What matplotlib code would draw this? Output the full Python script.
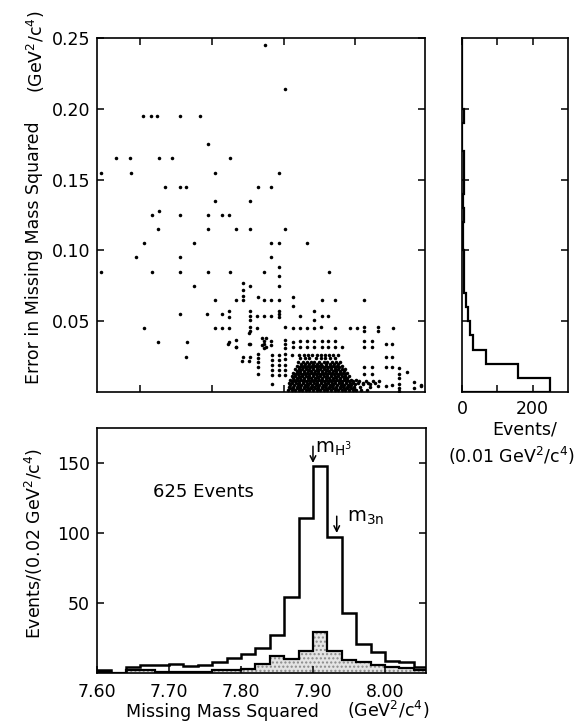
import matplotlib
matplotlib.use("Agg")
import matplotlib.pyplot as plt
import numpy as np

plt.rcParams['font.family'] = ['DejaVu Sans']
plt.rcParams['mathtext.fontset'] = 'dejavusans'

# ---------------- data ----------------
# sparse scatter points: missing mass squared (GeV^2/c^4) and its error
sparse_mass = [
    7.834, 7.862,
    7.664, 7.675, 7.684, 7.715, 7.743,
    7.755,
    7.626, 7.646, 7.686, 7.705, 7.785,
    7.606, 7.647, 7.765, 7.853,
    7.695, 7.715, 7.724, 7.825, 7.843,
    7.765, 7.813,
    7.676, 7.686, 7.715, 7.755, 7.774, 7.784,
    7.685, 7.755, 7.793, 7.813, 7.862,
    7.666, 7.735, 7.843, 7.853, 7.892,
    7.655, 7.715, 7.843,
    7.606, 7.676, 7.715, 7.755, 7.785, 7.833, 7.853, 7.853, 7.923,
    7.735, 7.804, 7.804, 7.804, 7.813, 7.853,
    7.764, 7.793, 7.804, 7.824, 7.833, 7.843, 7.853, 7.873, 7.873, 7.913, 7.932, 7.972,
    7.715, 7.753, 7.774, 7.784, 7.784, 7.813, 7.813, 7.813, 7.823, 7.833, 7.843,
    7.853, 7.853, 7.853, 7.883, 7.903, 7.903, 7.913, 7.922,
    7.666, 7.764, 7.774, 7.784, 7.813, 7.813, 7.823, 7.862, 7.873, 7.883, 7.893,
    7.903, 7.912, 7.932, 7.952, 7.962, 7.972, 7.972, 7.992, 7.992, 8.012,
    7.685, 7.725, 7.724, 7.783, 7.793, 7.793, 7.812, 7.812, 7.802, 7.812,
    7.830, 7.835, 7.830, 7.835,
    7.784, 7.793, 7.813, 7.833, 7.833, 7.833, 7.843, 7.843,
    7.862, 7.862, 7.862, 7.873, 7.873, 7.883, 7.883, 7.892, 7.892, 7.903, 7.903,
    7.913, 7.913, 7.922, 7.922, 7.932, 7.932, 7.942, 7.972, 7.972, 7.983, 7.983,
    8.002, 8.011,
    7.803, 7.813,
    7.824, 7.824, 7.824, 7.824, 7.824,
    7.844, 7.844, 7.844, 7.844, 7.844, 7.844,
    7.853, 7.853, 7.853, 7.853, 7.853,
    7.862, 7.862, 7.862, 7.862, 7.862,
    7.956, 7.965, 7.975, 7.984, 7.993, 7.960, 7.970, 7.980,
    7.972, 7.972, 7.983, 7.983,
    8.002, 8.011, 8.002, 8.011,
    8.021, 8.021, 8.021, 8.021, 8.021, 8.021,
    8.032, 8.042, 8.042, 8.051, 8.011, 7.992, 8.002, 8.052,
]
sparse_err = [
    0.245, 0.214,
    0.195, 0.195, 0.195, 0.195, 0.195,
    0.175,
    0.165, 0.165, 0.165, 0.165, 0.165,
    0.155, 0.155, 0.155, 0.155,
    0.145, 0.145, 0.145, 0.145, 0.145,
    0.135, 0.135,
    0.125, 0.128, 0.125, 0.125, 0.125, 0.125,
    0.115, 0.115, 0.115, 0.115, 0.115,
    0.105, 0.105, 0.105, 0.105, 0.105,
    0.095, 0.095, 0.095,
    0.085, 0.085, 0.085, 0.085, 0.085, 0.085, 0.088, 0.082, 0.085,
    0.075, 0.077, 0.072, 0.068, 0.075, 0.075,
    0.065, 0.065, 0.065, 0.067, 0.065, 0.065, 0.065, 0.067, 0.061, 0.065, 0.065, 0.065,
    0.055, 0.055, 0.055, 0.057, 0.053, 0.057, 0.054, 0.051, 0.054, 0.054, 0.054,
    0.057, 0.055, 0.053, 0.054, 0.057, 0.051, 0.054, 0.054,
    0.045, 0.045, 0.045, 0.045, 0.046, 0.043, 0.045, 0.046, 0.045, 0.045, 0.045,
    0.045, 0.046, 0.045, 0.045, 0.045, 0.046, 0.043, 0.046, 0.043, 0.045,
    0.035, 0.035, 0.025, 0.034, 0.037, 0.032, 0.042, 0.034, 0.022, 0.022,
    0.038, 0.038, 0.033, 0.032,
    0.035, 0.032, 0.034, 0.036, 0.034, 0.031, 0.036, 0.033,
    0.037, 0.034, 0.031, 0.035, 0.032, 0.036, 0.032, 0.036, 0.032, 0.036, 0.032,
    0.036, 0.032, 0.036, 0.032, 0.036, 0.032, 0.032, 0.036, 0.032, 0.036, 0.032,
    0.034, 0.034,
    0.025, 0.025,
    0.027, 0.024, 0.021, 0.018, 0.013,
    0.026, 0.0225, 0.019, 0.0155, 0.012, 0.006,
    0.026, 0.0225, 0.019, 0.0155, 0.012,
    0.027, 0.0235, 0.019, 0.0155, 0.012,
    0.0075, 0.0075, 0.0075, 0.0075, 0.0075, 0.0055, 0.0055, 0.0055,
    0.018, 0.013, 0.018, 0.013,
    0.025, 0.025, 0.018, 0.018,
    0.0167, 0.013, 0.0096, 0.006, 0.0026, 0.0008,
    0.0143, 0.007, 0.0026, 0.005, 0.005, 0.004, 0.004, 0.0042,
]

# dense core of the scatter, row by row (error level -> masses)
core_err = [0.0012, 0.0025, 0.0037, 0.0050, 0.0062, 0.0075, 0.0087, 0.0100,
            0.0112, 0.0125, 0.0137, 0.0150, 0.0162, 0.0175, 0.0187, 0.0200,
            0.0212, 0.0237, 0.0262]
core_mass = [
    [7.866, 7.871, 7.876, 7.881, 7.886, 7.891, 7.896, 7.901, 7.906, 7.911, 7.916,
     7.921, 7.926, 7.931, 7.936, 7.941, 7.946, 7.951, 7.956, 7.961, 7.968, 7.976],
    [7.8685, 7.8735, 7.8785, 7.8835, 7.8885, 7.8935, 7.8985, 7.9035, 7.9085, 7.9135,
     7.9185, 7.9235, 7.9285, 7.9335, 7.9385, 7.9435, 7.9485, 7.9535, 7.9585],
    [7.868, 7.873, 7.878, 7.883, 7.888, 7.893, 7.898, 7.903, 7.908, 7.913, 7.918,
     7.923, 7.928, 7.933, 7.938, 7.943, 7.948, 7.953, 7.958, 7.966, 7.981],
    [7.8695, 7.8745, 7.8795, 7.8845, 7.8895, 7.8945, 7.8995, 7.9045, 7.9095, 7.9145,
     7.9195, 7.9245, 7.9295, 7.9345, 7.9395, 7.9445, 7.9495, 7.9545],
    [7.867, 7.872, 7.877, 7.882, 7.887, 7.892, 7.897, 7.902, 7.907, 7.912, 7.917,
     7.922, 7.927, 7.932, 7.937, 7.942, 7.947, 7.952, 7.957, 7.963, 7.971, 7.978, 7.987],
    [7.8715, 7.8765, 7.8815, 7.8865, 7.8915, 7.8965, 7.9015, 7.9065, 7.9115, 7.9165,
     7.9215, 7.9265, 7.9315, 7.9365, 7.9415, 7.9465, 7.9515],
    [7.869, 7.874, 7.879, 7.884, 7.889, 7.894, 7.899, 7.904, 7.909, 7.914, 7.919,
     7.924, 7.929, 7.934, 7.939, 7.944, 7.949, 7.954, 7.961],
    [7.8735, 7.8785, 7.8835, 7.8885, 7.8935, 7.8985, 7.9035, 7.9085, 7.9135, 7.9185,
     7.9235, 7.9285, 7.9335, 7.9385, 7.9435, 7.9485],
    [7.871, 7.876, 7.881, 7.886, 7.891, 7.896, 7.901, 7.906, 7.911, 7.916, 7.921,
     7.926, 7.931, 7.936, 7.941, 7.946, 7.951],
    [7.8755, 7.8805, 7.8855, 7.8905, 7.8955, 7.9005, 7.9055, 7.9105, 7.9155, 7.9205,
     7.9255, 7.9305, 7.9355, 7.9405, 7.9455],
    [7.873, 7.878, 7.883, 7.888, 7.893, 7.898, 7.903, 7.908, 7.913, 7.918, 7.923,
     7.928, 7.933, 7.938, 7.943, 7.948],
    [7.8785, 7.8835, 7.8885, 7.8935, 7.8985, 7.9035, 7.9085, 7.9135, 7.9185, 7.9235,
     7.9285, 7.9335, 7.9385, 7.9435],
    [7.876, 7.881, 7.886, 7.891, 7.896, 7.901, 7.906, 7.911, 7.916, 7.921, 7.926,
     7.931, 7.936, 7.941, 7.946],
    [7.8815, 7.8865, 7.8915, 7.8965, 7.9015, 7.9065, 7.9115, 7.9165, 7.9215, 7.9265,
     7.9315, 7.9365],
    [7.878, 7.884, 7.889, 7.894, 7.899, 7.904, 7.909, 7.914, 7.919, 7.924, 7.929,
     7.934, 7.941],
    [7.8845, 7.8905, 7.8955, 7.9005, 7.9065, 7.9125, 7.9185, 7.9245, 7.9305, 7.9355],
    [7.880, 7.887, 7.893, 7.898, 7.903, 7.910, 7.916, 7.921, 7.927, 7.933, 7.938],
    [7.883, 7.890, 7.896, 7.905, 7.912, 7.918, 7.925, 7.931],
    [7.872, 7.882, 7.889, 7.894, 7.900, 7.906, 7.912, 7.917, 7.923, 7.929, 7.936],
]

# projection on the error axis (events per 0.01 GeV^2/c^4)
err_edges = [0.00, 0.01, 0.02, 0.03, 0.04, 0.05, 0.06, 0.07, 0.08, 0.09, 0.10,
             0.11, 0.12, 0.13, 0.14, 0.15, 0.16, 0.17, 0.18, 0.19, 0.20,
             0.21, 0.22, 0.23, 0.24, 0.25]
err_counts = [248, 158, 68, 32, 24, 18, 11, 6, 6, 5, 4, 3, 5, 3, 6, 5, 6, 1, 1,
              6, 0, 1, 0, 0, 1]

# missing mass squared histogram (events per 0.02 GeV^2/c^4)
mm_edges = [7.60, 7.62, 7.64, 7.66, 7.68, 7.70, 7.72, 7.74, 7.76, 7.78, 7.80,
            7.82, 7.84, 7.86, 7.88, 7.90, 7.92, 7.94, 7.96, 7.98, 8.00,
            8.02, 8.04, 8.06]
mm_all = [2, 0, 4, 5.5, 5.5, 6.5, 5, 6, 8, 10.5, 13.5, 18, 27.5, 54, 111, 148,
          97, 43, 21, 15, 8.5, 8, 4]
mm_sub = [1, 0, 2, 2, 1, 1, 1, 1, 2.5, 2.5, 3, 6.5, 12, 10, 15.5, 29.5, 16, 9.5,
          8, 5.5, 4.5, 3.5, 2.5]

mass_ticks = [7.60, 7.70, 7.80, 7.90, 8.00]
mass_ticklabels = ["7.60", "7.70", "7.80", "7.90", "8.00"]
scatter_xticks = [7.66, 7.76, 7.86, 7.96]
err_ticks = [0.05, 0.10, 0.15, 0.20, 0.25]
err_ticklabels = ["0.05", "0.10", "0.15", "0.20", "0.25"]
count_ticks = [50, 100, 150]
proj_ticks = [0, 100, 200]
proj_ticklabels = ["0", "", "200"]

m_h3 = 7.90
m_3n = 7.933

# ---------------- figure ----------------
W, H = 578, 726
fig = plt.figure(figsize=(W / 100, H / 100), dpi=100)

def rect(x0, y0, x1, y1):
    return [x0 / W, 1 - y1 / H, (x1 - x0) / W, (y1 - y0) / H]

ax_sc = fig.add_axes(rect(97, 38, 425, 392))
ax_pr = fig.add_axes(rect(462, 38, 568, 392))
ax_h = fig.add_axes(rect(97, 428, 426, 673))

FS = 12.5
for a in (ax_sc, ax_pr, ax_h):
    for s in a.spines.values():
        s.set_linewidth(1.2)
    a.tick_params(direction='in', length=5, width=1.1, labelsize=FS, pad=5)

# scatter
xs = list(sparse_mass)
ys = list(sparse_err)
for e, row in zip(core_err, core_mass):
    xs.extend(row)
    ys.extend([e] * len(row))
ax_sc.scatter(xs, ys, s=6.5, c='black', marker='o', linewidths=0)
ax_sc.set_xlim(7.60, 8.057)
ax_sc.set_ylim(0, 0.25)
ax_sc.set_xticks(scatter_xticks)
ax_sc.set_yticks(err_ticks)
ax_sc.set_yticklabels(err_ticklabels)
ax_sc.tick_params(top=True, right=True, labelbottom=False)

# projection
ax_pr.stairs(err_counts, err_edges, orientation='horizontal', color='black',
             linewidth=1.6, baseline=0)
ax_pr.set_xlim(0, 300)
ax_pr.set_ylim(0, 0.25)
ax_pr.set_xticks(proj_ticks)
ax_pr.set_xticklabels(proj_ticklabels)
ax_pr.set_yticks(err_ticks[:-1])
ax_pr.tick_params(top=True, right=True, labelleft=False, pad=6)

# mass histogram
ax_h.stairs(mm_sub, mm_edges, fill=True, facecolor='#e4e4e4', edgecolor='#8a8a8a',
            hatch='....', linewidth=0)
ax_h.stairs(mm_sub, mm_edges, color='black', linewidth=1.6, baseline=0)
ax_h.stairs(mm_all, mm_edges, color='black', linewidth=1.8, baseline=0)
ax_h.set_xlim(7.60, 8.057)
ax_h.set_ylim(0, 175)
ax_h.set_xticks(mass_ticks)
ax_h.set_xticklabels(mass_ticklabels)
ax_h.set_yticks(count_ticks)
ax_h.tick_params(right=True, top=False)
ax_h.tick_params(axis='x', pad=7)

ax_h.text(7.678, 129, "625 Events", fontsize=13, ha='left', va='center')
ax_h.annotate('', xy=(m_h3, 150), xytext=(m_h3, 162),
              arrowprops=dict(arrowstyle='->', lw=1.1, color='black',
                              shrinkA=0, shrinkB=0))
ax_h.text(m_h3 + 0.003, 157, r"m$_{\mathrm{H}^3}$", fontsize=14, ha='left',
          va='baseline')
ax_h.annotate('', xy=(m_3n, 100), xytext=(m_3n, 112),
              arrowprops=dict(arrowstyle='->', lw=1.1, color='black',
                              shrinkA=0, shrinkB=0))
ax_h.text(m_3n + 0.014, 108, r"m$_{\mathrm{3n}}$", fontsize=14, ha='left',
          va='baseline')

# axis titles
fig.text(34 / W, 1 - 253 / H, "Error in Missing Mass Squared", rotation=90,
         fontsize=FS, ha='center', va='center')
fig.text(36 / W, 1 - 52 / H, r"(GeV$^2$/c$^4$)", rotation=90,
         fontsize=FS, ha='center', va='center')
fig.text(34 / W, 1 - 543 / H, r"Events/(0.02 GeV$^2$/c$^4$)", rotation=90,
         fontsize=FS, ha='center', va='center')
fig.text(222 / W, 1 - 712 / H, "Missing Mass Squared", fontsize=FS,
         ha='center', va='center')
fig.text(388 / W, 1 - 710 / H, r"(GeV$^2$/c$^4$)", fontsize=FS,
         ha='center', va='center')
fig.text(525 / W, 1 - 430 / H, "Events/", fontsize=FS, ha='center', va='center')
fig.text(511 / W, 1 - 456 / H, r"(0.01 GeV$^2$/c$^4$)", fontsize=FS,
         ha='center', va='center')

fig.savefig("out.png", dpi=100)
